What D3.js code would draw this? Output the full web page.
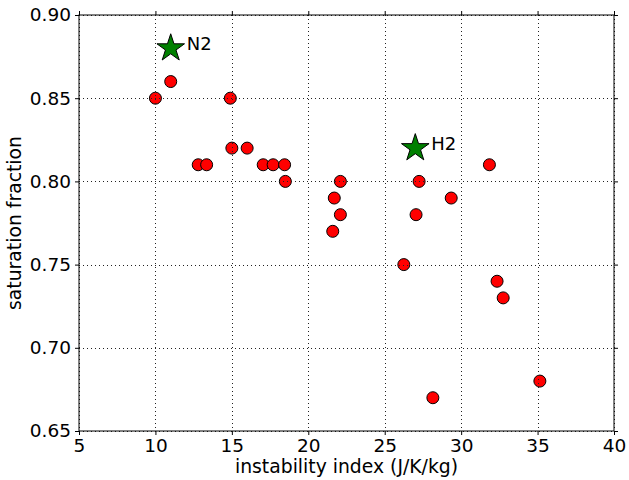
<!DOCTYPE html>
<html>
<head>
<meta charset="utf-8">
<script src="https://cdn.jsdelivr.net/npm/d3@7"></script>
<style>
  body { margin: 0; background: #fff; }
  svg text { font-family: "DejaVu Sans", sans-serif; }
</style>
</head>
<body>
<svg id="chart" width="629" height="480"></svg>
<script>
// instability index vs saturation fraction
var xVals = [10, 11, 12.8, 13.35, 14.9, 15, 16, 17.05, 17.7, 18.45, 18.5,
             21.6, 21.7, 22.1, 22.1, 26.25, 27.05, 27.25, 28.15, 29.35, 31.85, 32.35, 32.75, 35.15];
var yVals = [0.85, 0.86, 0.81, 0.81, 0.85, 0.82, 0.82, 0.81, 0.81, 0.81, 0.80,
             0.77, 0.79, 0.80, 0.78, 0.75, 0.78, 0.80, 0.67, 0.79, 0.81, 0.74, 0.73, 0.68];

var gasNames = ["N2", "H2"];
var gasX = [11, 27];
var gasY = [0.88, 0.82];

var xTicks = [5, 10, 15, 20, 25, 30, 35, 40];
var yTicks = [0.65, 0.70, 0.75, 0.80, 0.85, 0.90];

var svg = d3.select("#chart"),
    margin = {top: 15, right: 15, bottom: 49, left: 79},
    width = +svg.attr("width") - margin.left - margin.right,
    height = +svg.attr("height") - margin.top - margin.bottom,
    g = svg.append("g").attr("transform", "translate(" + margin.left + "," + margin.top + ")");

var x = d3.scaleLinear().domain([5, 40]).range([0, width]);
var y = d3.scaleLinear().domain([0.65, 0.90]).range([height, 0]);

var fs = "18.5px";

/* red circles */
g.selectAll(".dot")
  .data(xVals.map(function(d, i) { return [d, yVals[i]]; }))
  .enter().append("circle")
    .attr("class", "dot")
    .attr("cx", function(d) { return x(d[0]); })
    .attr("cy", function(d) { return y(d[1]); })
    .attr("r", 6)
    .attr("fill", "#ff0000")
    .attr("stroke", "#000")
    .attr("stroke-width", 1);

/* stars */
var star = d3.symbol().type(d3.symbolStar).size(236);
gasNames.forEach(function(n, i) {
  g.append("path")
      .attr("d", star())
      .attr("transform", "translate(" + x(gasX[i]) + "," + y(gasY[i]) + ")")
      .attr("fill", "#008000")
      .attr("stroke", "#000")
      .attr("stroke-width", 1);
  g.append("text")
      .attr("x", x(gasX[i]) + 16)
      .attr("y", y(gasY[i]) + 2)
      .style("font-size", "18px")
      .attr("fill", "#000")
      .text(n);
});

/* grid on top, like matplotlib */
var grid = g.append("g").attr("fill", "none").attr("stroke", "#222")
    .attr("stroke-width", 1).attr("stroke-dasharray", "1,3");
grid.selectAll(".gx").data(xTicks).enter().append("line")
    .attr("x1", function(d) { return Math.round(x(d)) + 0.5; })
    .attr("x2", function(d) { return Math.round(x(d)) + 0.5; })
    .attr("y1", 0).attr("y2", height);
grid.selectAll(".gy").data(yTicks).enter().append("line")
    .attr("y1", function(d) { return Math.round(y(d)) + 0.5; })
    .attr("y2", function(d) { return Math.round(y(d)) + 0.5; })
    .attr("x1", 0).attr("x2", width);

/* axes */
g.append("g")
    .attr("transform", "translate(0," + height + ")")
    .call(d3.axisBottom(x).tickValues(xTicks).tickSize(4).tickPadding(4).tickFormat(d3.format("d")));
g.append("g")
    .call(d3.axisTop(x).tickValues(xTicks).tickSize(4).tickFormat(""));
g.append("g")
    .call(d3.axisLeft(y).tickValues(yTicks).tickSize(4).tickPadding(4).tickFormat(d3.format(".2f")));
g.append("g")
    .attr("transform", "translate(" + width + ",0)")
    .call(d3.axisRight(y).tickValues(yTicks).tickSize(4).tickFormat(""));

g.selectAll(".domain").remove();
g.selectAll(".tick line").attr("stroke", "#000");
g.selectAll(".tick text").attr("fill", "#000").style("font-size", fs)
    .style("font-family", "DejaVu Sans, sans-serif");

/* frame */
g.append("rect")
    .attr("width", width)
    .attr("height", height)
    .attr("fill", "none")
    .attr("stroke", "#000")
    .attr("stroke-width", 1);

/* labels */
g.append("text")
    .attr("x", width / 2)
    .attr("y", height + 42)
    .attr("text-anchor", "middle")
    .style("font-size", "18.8px")
    .text("instability index (J/K/kg)");

g.append("text")
    .attr("transform", "translate(" + (-58) + "," + (height / 2) + ")rotate(-90)")
    .attr("text-anchor", "middle")
    .style("font-size", "18.8px")
    .text("saturation fraction");
</script>
</body>
</html>
